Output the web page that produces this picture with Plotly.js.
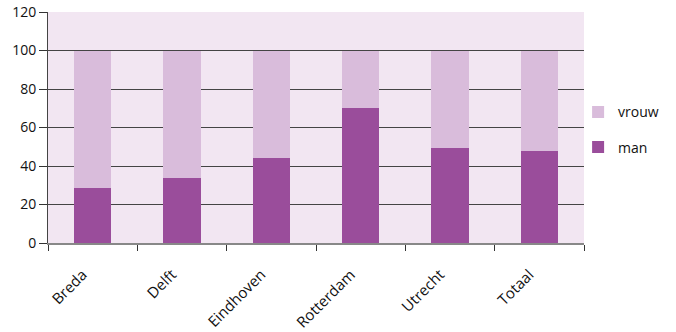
<!DOCTYPE html>
<html><head><meta charset="utf-8">
<script src="https://cdn.plot.ly/plotly-3.0.1.min.js"></script>
<style>body{margin:0;padding:0;background:#fff}#chart{width:676px;height:332px}</style>
</head><body><div id="chart"></div>
<script>
const categories = ["Breda", "Delft", "Eindhoven", "Rotterdam", "Utrecht", "Totaal"];
const man = [28.5, 33.7, 44, 70, 49.2, 47.7];
const vrouw = man.map(v => 100 - v);
const yTicks = [0, 20, 40, 60, 80, 100, 120];

const traces = [
  {type: "bar", name: "man", legendgroup: "m", legendrank: 2, x: categories, y: man, marker: {color: "#9a4d9b"}},
  {type: "bar", name: "vrouw", legendgroup: "v", legendrank: 1, x: categories, y: vrouw, marker: {color: "#d9bcdb"}}
];
const layout = {
  width: 676, height: 332,
  margin: {l: 48, r: 92, t: 12, b: 89, autoexpand: false},
  barmode: "stack", bargap: 0.58,
  paper_bgcolor: "#ffffff", plot_bgcolor: "#f2e6f2",
  font: {family: "Open Sans, sans-serif", size: 14, color: "#111"},
  xaxis: {tickangle: -45, ticks: "outside", tickson: "boundaries", ticklen: 6, tickcolor: "#333",
          showline: true, linecolor: "#888", linewidth: 2, showgrid: false, fixedrange: true,
          tickfont: {size: 15}, ticklabelstandoff: 15, ticklabelshift: -10},
  yaxis: {range: [0, 120], tickvals: yTicks, ticktext: yTicks.map(String), ticks: "outside", ticklen: 8,
          tickcolor: "#333", showline: true, linecolor: "#444", linewidth: 1, gridcolor: "#444", gridwidth: 1,
          zeroline: false, tickfont: {size: 14}},
  legend: {x: 0.989, y: 0.49, xanchor: "left", yanchor: "middle", traceorder: "grouped",
           tracegroupgap: 14, font: {size: 14}, itemwidth: 30, bgcolor: "rgba(0,0,0,0)"},
  showlegend: true
};
Plotly.newPlot("chart", traces, layout, {displayModeBar: false, staticPlot: true});
</script></body></html>
